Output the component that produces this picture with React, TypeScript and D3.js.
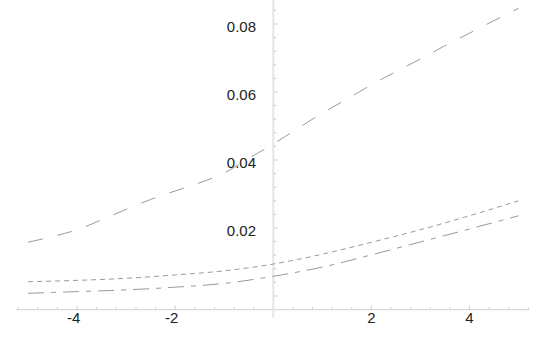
import React from "react";
import * as d3 from "d3";

// x positions
const xsTop = [-5, -4.5, -4, -3.5, -3, -2.5, -2, -1.5, -1, -0.5, 0, 0.5, 1, 1.5, 2, 2.5, 3, 3.5, 4, 4.5, 5];
const longDash = [
  0.0158, 0.0175, 0.0195, 0.0224, 0.0255, 0.0284, 0.0309, 0.0333, 0.0362, 0.0405, 0.0447,
  0.0493, 0.0538, 0.0579, 0.0621, 0.066, 0.0697, 0.0736, 0.0773, 0.081, 0.0846,
];

const xsLow = [-5, -4, -3, -2, -1, 0, 1, 2, 3, 4, 5];
const shortDash = [0.0042, 0.0046, 0.0052, 0.0062, 0.0074, 0.0094, 0.0123, 0.0158, 0.0195, 0.0236, 0.028];
const dashDot = [0.0008, 0.0013, 0.0018, 0.0026, 0.0037, 0.0058, 0.0085, 0.0121, 0.0159, 0.0197, 0.0236];

const xTickLabels = [-4, -2, 2, 4];
const yTickLabels = [0.02, 0.04, 0.06, 0.08];

const width = 546;
const height = 337;

const App = () => {
  const x = d3.scaleLinear().domain([-5.2, 5.2]).range([18.3, 528.3]);
  const y = d3.scaleLinear().domain([-0.004, 0.04]).range([309.6, 160]);

  const x0 = x(0);
  const yBase = y(-0.004);

  const line = d3
    .line<[number, number]>()
    .x((d) => x(d[0]))
    .y((d) => y(d[1]))
    .curve(d3.curveMonotoneX);

  const series = [
    { xs: xsTop, ys: longDash, dash: "15,15" },
    { xs: xsLow, ys: shortDash, dash: "5,4" },
    { xs: xsLow, ys: dashDot, dash: "16,7,5,7" },
  ];

  // minor ticks every 0.4 on x, every 0.004 on y
  const xMinor = d3.range(-13, 14).map((i) => i * 0.4).filter((v) => Math.abs(v) > 1e-9);
  const yMinor = d3.range(0, 22).map((i) => i * 0.004);

  const font = "'Liberation Sans', Arial, Helvetica, sans-serif";

  return (
    <svg width={width} height={height} style={{ position: "absolute", left: 0, top: 0 }}>
      <rect width={width} height={height} fill="#fff" />

      {/* axes */}
      <line x1={16} x2={529} y1={yBase} y2={yBase} stroke="#d9d9d9" strokeWidth={1.2} />
      <line x1={x0} x2={x0} y1={0} y2={318} stroke="#e6e6e6" strokeWidth={2} />

      {xMinor.map((v, i) => {
        const major = xTickLabels.some((t) => Math.abs(t - v) < 1e-9);
        return (
          <line
            key={"xm" + i}
            x1={x(v)}
            x2={x(v)}
            y1={yBase}
            y2={yBase - (major ? 4 : 2.5)}
            stroke="#cfcfcf"
            strokeWidth={1}
          />
        );
      })}
      {yMinor.map((v, i) => {
        const major = yTickLabels.some((t) => Math.abs(t - v) < 1e-9) || v === 0;
        return (
          <line
            key={"ym" + i}
            x1={x0}
            x2={x0 + (major ? 4.5 : 3)}
            y1={y(v)}
            y2={y(v)}
            stroke="#cfcfcf"
            strokeWidth={1}
          />
        );
      })}

      {xTickLabels.map((t) => (
        <text
          key={"xl" + t}
          x={x(t)}
          y={yBase + 13.8}
          dx={t < 0 ? -3.5 : 0}
          textAnchor="middle"
          fontFamily={font}
          fontSize={15}
          fill="#222"
        >
          {t < 0 ? "-" + Math.abs(t) : String(t)}
        </text>
      ))}
      {yTickLabels.map((t) => (
        <text
          key={"yl" + t}
          x={256}
          y={y(t) + 8}
          textAnchor="end"
          fontFamily={font}
          fontSize={15}
          fill="#222"
        >
          {t.toFixed(2)}
        </text>
      ))}

      {/* curves */}
      {series.map((s, i) => (
        <path
          key={"s" + i}
          d={line(s.xs.map((v, j) => [v, s.ys[j]] as [number, number])) || ""}
          fill="none"
          stroke="#9a9a9a"
          strokeWidth={1}
          strokeDasharray={s.dash}
        />
      ))}
    </svg>
  );
};

export default App;
